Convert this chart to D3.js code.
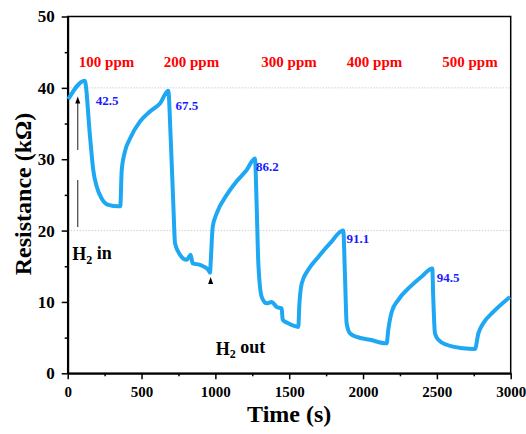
<html>
<head>
<script src="https://d3js.org/d3.v7.min.js" charset="utf-8"></script>
<style>
body { margin:0; background:#ffffff; }
svg text { font-family: "Times New Roman", "Liberation Serif", serif; font-weight:bold; }
</style>
</head>
<body>
<svg width="526" height="434" id="viz"></svg>
<script>
// response curve, time (s) and resistance (kOhm)
var times = [4,115,151,173,196,230,275,343,356,366,388,422,490,557,625,681,
	697,715,727,761,806,833,846,896,952,964,968,982,1009,1077,1144,1212,1268,
	1280,1291,1314,1348,1381,1415,1449,1456,1494,1562,1568,1585,1629,1697,1776,1866,
	1878,1889,1912,1957,2047,2160,2171,2194,2239,2318,2400,2469,
	2476,2487,2510,2567,2679,2758,2781,2814,2882,2995];
var resist = [38.4,41.0,33.2,28.5,26.2,24.5,23.6,23.4,23.4,28.5,31.1,32.9,35.3,36.7,37.8,39.6,
	33.2,23.8,18.2,16.6,15.9,16.6,15.4,15.2,14.5,14.1,15.4,20.5,22.4,25.0,26.9,28.5,30.1,
	23.3,15.4,10.7,9.8,10.0,9.3,9.1,7.5,7.0,6.5,9.3,12.6,14.5,16.3,18.2,20.0,
	13.5,7.0,5.6,5.1,4.7,4.2,6.1,8.6,10.3,12.1,13.6,14.7,
	10.3,5.6,4.7,4.0,3.5,3.4,5.6,7.0,8.6,10.7];

var ppmLabels = ["100 ppm","200 ppm","300 ppm","400 ppm","500 ppm"];
var ppmTimes = [263,838,1499,2078,2724];
var respLabels = ["42.5","67.5","86.2","91.1","94.5"];
var respTimes = [190,730,1276,1888,2499];
var respValues = [38.2,37.6,29.0,18.9,13.5];

var xTicks = [0,500,1000,1500,2000,2500,3000];
var yTicks = [0,10,20,30,40,50];
var gridValues = [20,40];

var svg = d3.select("#viz");
var pLeft = 67.7, pRight = 510.7, pTop = 16.5, pBottom = 373.3;
var xScale = d3.scaleLinear().domain([0,3000]).range([pLeft,pRight]);
var yScale = d3.scaleLinear().domain([0,50]).range([pBottom,pTop]);

// frame
svg.append("rect").attr("x",pLeft).attr("y",pTop).attr("width",pRight-pLeft).attr("height",pBottom-pTop)
	.attr("fill","none").attr("stroke","#000").attr("stroke-width",1.5);

// dotted grid
svg.selectAll(".grid").data(gridValues).enter().append("line").attr("class","grid")
	.attr("x1",pLeft).attr("x2",pRight)
	.attr("y1",function(d){return yScale(d);}).attr("y2",function(d){return yScale(d);})
	.attr("stroke","#aaaaaa").attr("stroke-width",0.8).attr("stroke-dasharray","1,2");

// minor ticks
var xMinor = d3.range(250,3000,500), yMinor = d3.range(5,50,10);
svg.append("g").attr("transform","translate(0,"+pBottom+")")
	.call(d3.axisBottom(xScale).tickValues(xMinor).tickSize(3).tickSizeOuter(0).tickFormat(""))
	.call(function(g){ g.select(".domain").remove(); g.selectAll("line").attr("stroke-width",1.5); });
svg.append("g").attr("transform","translate("+pLeft+",0)")
	.call(d3.axisLeft(yScale).tickValues(yMinor).tickSize(3).tickSizeOuter(0).tickFormat(""))
	.call(function(g){ g.select(".domain").remove(); g.selectAll("line").attr("stroke-width",1.5); });

var xAxis = svg.append("g").attr("transform","translate(0,"+pBottom+")")
	.call(d3.axisBottom(xScale).tickValues(xTicks).tickSize(6).tickSizeOuter(0).tickPadding(7).tickFormat(d3.format("d")));
xAxis.select(".domain").attr("stroke-width",2);
xAxis.selectAll("line").attr("stroke-width",1.5);
xAxis.selectAll("text").style("font-size","15px").attr("fill","#000");

var yAxis = svg.append("g").attr("transform","translate("+pLeft+",0)")
	.call(d3.axisLeft(yScale).tickValues(yTicks).tickSize(6).tickSizeOuter(0).tickPadding(7).tickFormat(d3.format("d")));
yAxis.select(".domain").attr("stroke-width",2);
yAxis.selectAll("line").attr("stroke-width",1.5);
yAxis.selectAll("text").style("font-size","17px").attr("fill","#000");

// H2 in marker: dashed line with arrow head
svg.append("line").attr("x1",xScale(68)).attr("x2",xScale(68))
	.attr("y1",yScale(38.3)).attr("y2",yScale(20.5))
	.attr("stroke","#444").attr("stroke-width",1.2).attr("stroke-dasharray","50,30");
function upArrow(t,v){
	var x = xScale(t), y = yScale(v);
	svg.append("path").attr("d","M"+x+","+y+" L"+(x-2.5)+","+(y+7)+" L"+(x+2.5)+","+(y+7)+" Z").attr("fill","#000");
}
upArrow(68,38.8);
upArrow(968,13.5);

// curve
var line = d3.line().curve(d3.curveMonotoneX)
	.x(function(d,i){return xScale(times[i]);}).y(function(d){return yScale(d);});
svg.append("path").datum(resist).attr("d",line)
	.attr("fill","none").attr("stroke","#1ea7f2").attr("stroke-width",4).attr("stroke-linejoin","round");

// labels
svg.selectAll(".ppm").data(ppmLabels).enter().append("text").attr("class","ppm")
	.attr("x",function(d,i){return xScale(ppmTimes[i]);}).attr("y",yScale(43.7))
	.attr("dy","0.35em").attr("text-anchor","middle")
	.style("font-size","15px").attr("fill","#ff0000").text(function(d){return d;});

svg.selectAll(".resp").data(respLabels).enter().append("text").attr("class","resp")
	.attr("x",function(d,i){return xScale(respTimes[i]);}).attr("y",function(d,i){return yScale(respValues[i]);})
	.attr("dy","0.35em").style("font-size","13px").attr("fill","#1a1aff").text(function(d){return d;});

var h2in = svg.append("text").attr("x",xScale(31)).attr("y",yScale(16.7)).attr("dy","0.35em").style("font-size","18px").attr("fill","#000");
h2in.append("tspan").text("H");
h2in.append("tspan").attr("dy","0.3em").style("font-size","12px").text("2");
h2in.append("tspan").attr("dy","-0.3em").text(" in");

var h2out = svg.append("text").attr("x",xScale(1002)).attr("y",yScale(3.5)).attr("dy","0.35em").style("font-size","18px").attr("fill","#000");
h2out.append("tspan").text("H");
h2out.append("tspan").attr("dy","0.3em").style("font-size","12px").text("2");
h2out.append("tspan").attr("dy","-0.3em").text(" out");

// axis titles
svg.append("text").text("Time (s)").attr("x",(pLeft+pRight)/2).attr("y",422)
	.attr("text-anchor","middle").style("font-size","24px").attr("fill","#000");
svg.append("text").text("Resistance (k\u03A9)").attr("transform","translate(31,"+(194)+")rotate(-90)")
	.attr("text-anchor","middle").style("font-size","24px").attr("fill","#000");
</script>
</body>
</html>
